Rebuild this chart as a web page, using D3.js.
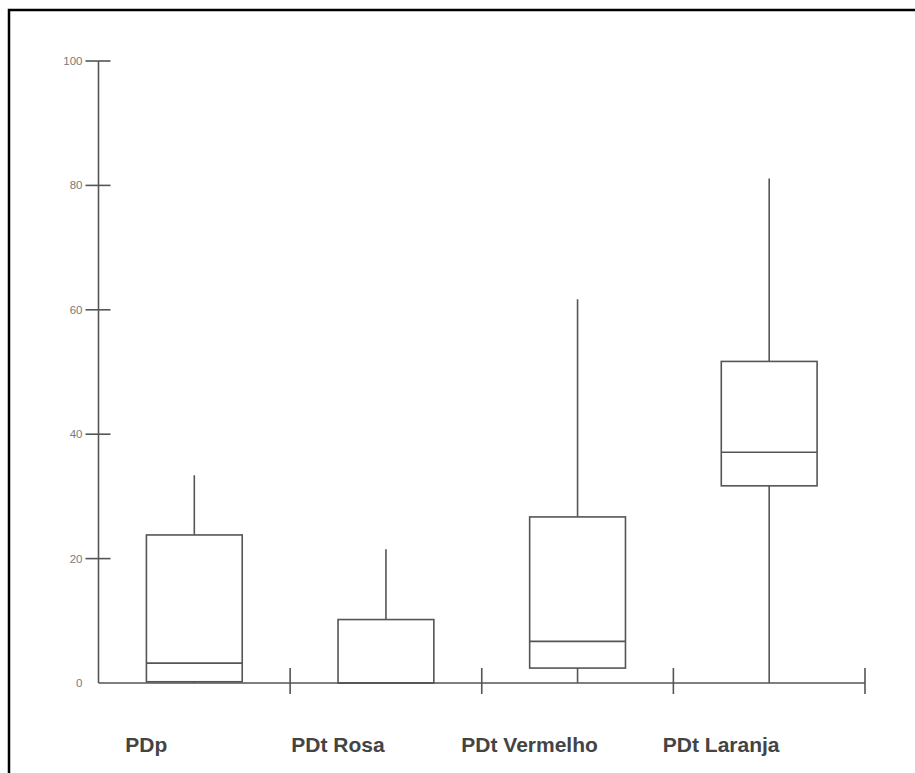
<!DOCTYPE html>
<html>
<head>
<meta charset="utf-8">
<script src="https://cdn.jsdelivr.net/npm/d3@7/dist/d3.min.js"></script>
<style>
  html, body { margin: 0; padding: 0; background: #fff; }
  svg { display: block; }
</style>
</head>
<body>
<svg id="chart" width="915" height="773"></svg>
<script>
const categories = ["PDp", "PDt Rosa", "PDt Vermelho", "PDt Laranja"];
const whiskerLow = [0, 0, 0, 0];
const q1 = [0.2, 0, 2.4, 31.7];
const median = [3.2, 0, 6.7, 37.1];
const q3 = [23.8, 10.2, 26.7, 51.7];
const whiskerHigh = [33.4, 21.5, 61.7, 81.1];
const yTicks = [0, 20, 40, 60, 80, 100];

const data = categories.map((c, i) => ({
  cat: c, lo: whiskerLow[i], q1: q1[i], med: median[i], q3: q3[i], hi: whiskerHigh[i]
}));

const svg = d3.select("#chart");
const W = 915, H = 773;
const stroke = "#555";
const sw = 1.6;

// frame
svg.append("rect").attr("x", 9).attr("y", 10).attr("width", W + 20).attr("height", H + 20)
  .attr("fill", "none").attr("stroke", "#000").attr("stroke-width", 2.5);

const x = d3.scaleBand().domain(categories).range([98.5, 865]).paddingInner(0).paddingOuter(0);
const y = d3.scaleLinear().domain([0, 100]).range([683, 61]);

const g = svg.append("g");

// y axis line
g.append("line").attr("x1", x.range()[0]).attr("x2", x.range()[0])
  .attr("y1", y(0)).attr("y2", y(100))
  .attr("stroke", stroke).attr("stroke-width", sw);

// y ticks (no tick mark at 0)
g.selectAll(".ytick").data(yTicks.filter(t => t !== 0)).enter().append("line")
  .attr("x1", x.range()[0] - 13).attr("x2", x.range()[0] + 12)
  .attr("y1", d => y(d)).attr("y2", d => y(d))
  .attr("stroke", stroke).attr("stroke-width", sw);

g.selectAll(".ylab").data(yTicks).enter().append("text")
  .attr("x", x.range()[0] - 16).attr("y", d => y(d)).attr("dy", "0.35em")
  .attr("text-anchor", "end")
  .attr("font-family", "Liberation Sans, Arial, sans-serif")
  .attr("font-size", 11.5).attr("fill", "#7a7a7a")
  .text(d => d);

// x axis line
g.append("line").attr("x1", x.range()[0]).attr("x2", x.range()[1])
  .attr("y1", y(0)).attr("y2", y(0))
  .attr("stroke", stroke).attr("stroke-width", sw);

// x boundary ticks
g.selectAll(".xtick").data(categories).enter().append("line")
  .attr("x1", d => x(d) + x.bandwidth()).attr("x2", d => x(d) + x.bandwidth())
  .attr("y1", y(0) - 15).attr("y2", y(0) + 11)
  .attr("stroke", stroke).attr("stroke-width", sw);

// boxes
const bw = x.bandwidth() / 2;
const bx = d => x(d.cat) + x.bandwidth() / 4;
const cx = d => x(d.cat) + x.bandwidth() / 2;

const boxes = g.selectAll(".box").data(data).enter().append("g");

boxes.append("line")
  .attr("x1", cx).attr("x2", cx)
  .attr("y1", d => y(d.q3)).attr("y2", d => y(d.hi))
  .attr("stroke", stroke).attr("stroke-width", sw);
boxes.append("line")
  .attr("x1", cx).attr("x2", cx)
  .attr("y1", d => y(d.q1)).attr("y2", d => y(d.lo))
  .attr("stroke", stroke).attr("stroke-width", sw);
boxes.append("rect")
  .attr("x", bx).attr("width", bw)
  .attr("y", d => y(d.q3)).attr("height", d => y(d.q1) - y(d.q3))
  .attr("fill", "none").attr("stroke", stroke).attr("stroke-width", sw);
boxes.append("line")
  .attr("x1", bx).attr("x2", d => bx(d) + bw)
  .attr("y1", d => y(d.med)).attr("y2", d => y(d.med))
  .attr("stroke", stroke).attr("stroke-width", sw);

// category labels
g.selectAll(".xlab").data(categories).enter().append("text")
  .attr("x", d => x(d) + x.bandwidth() / 2 - 48)
  .attr("y", 751.5)
  .attr("text-anchor", "middle")
  .attr("font-family", "Liberation Sans, Arial, sans-serif")
  .attr("font-weight", "bold")
  .attr("font-size", 21)
  .attr("fill", "#444")
  .text(d => d);
</script>
</body>
</html>
